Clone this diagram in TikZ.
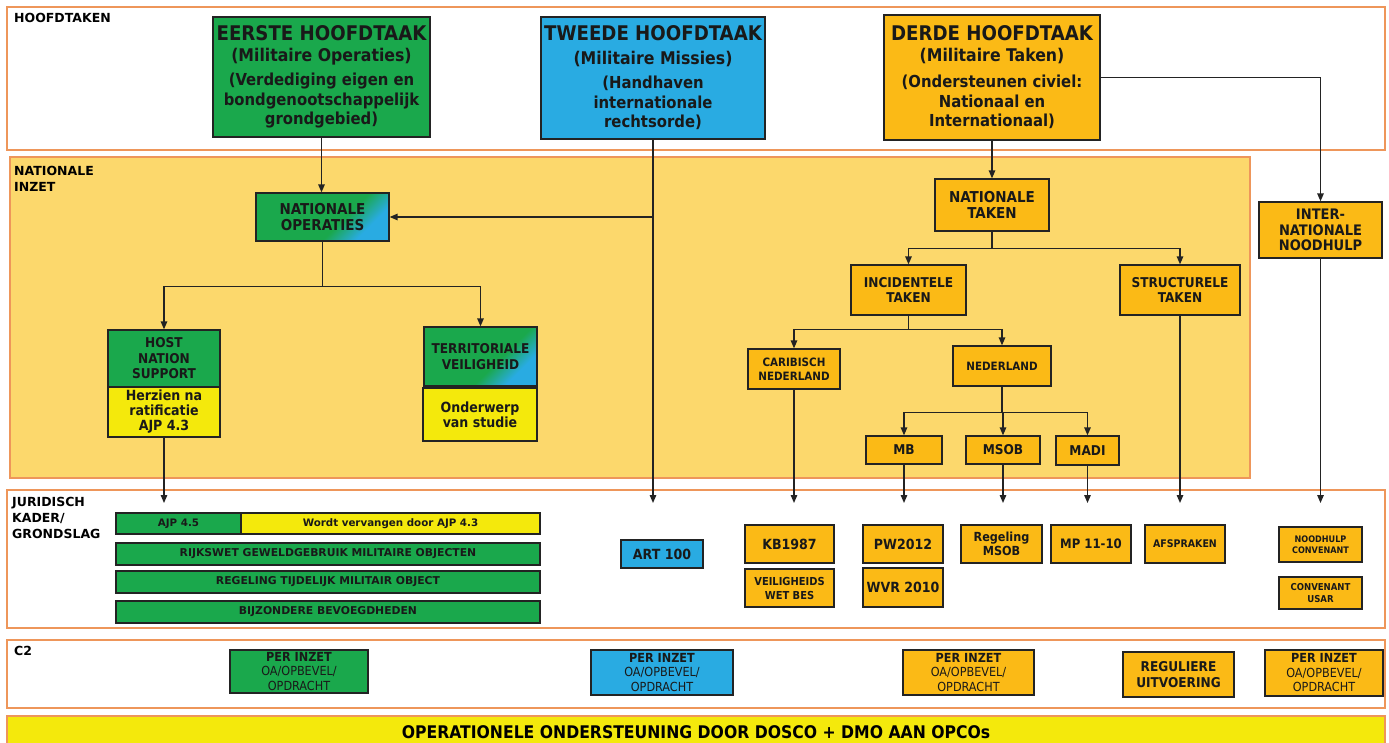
\documentclass[tikz,border=0pt]{standalone}
\usepackage{fontspec}
\setmainfont{DejaVu Sans}
\newfontfamily\cnd{DejaVu Sans Condensed}
\usetikzlibrary{arrows.meta}
\definecolor{cgreen}{RGB}{26,168,76}
\definecolor{cblue}{RGB}{41,171,226}
\definecolor{corange}{RGB}{251,186,22}
\definecolor{cyellow}{RGB}{244,233,12}
\definecolor{cpanel}{RGB}{252,216,108}
\definecolor{cborder}{RGB}{238,150,90}
\definecolor{cline}{RGB}{35,35,35}
\pgfdeclareverticalshading{gbshade}{100bp}{color(0bp)=(cblue); color(28bp)=(cblue); color(41bp)=(cgreen); color(100bp)=(cgreen)}
\newcommand\fsz[2]{\fontsize{#1}{#2}\selectfont}
\newcommand\bx[7]{\node[#6, minimum width={(#4-#2)*1pt}, minimum height={(#5-#3)*1pt}] (#1) at ({(#2+#4)/2},{(#3+#5)/2}) {#7};}
\newcommand\perinzet{PER INZET\\\mdseries OA/OPBEVEL/\\\mdseries OPDRACHT}
\tikzset{
 bx/.style={draw=cline, line width=1.3pt, inner sep=1pt, align=center, text=black!90, font=\cnd\bfseries\fsz{14}{16}},
 gshade/.style={shading=gbshade, shading angle=45},
 panel/.style={draw=cborder, line width=1.4pt},
 arr/.style={draw=cline, line width=1.35pt, -{Triangle[length=8pt,width=6.5pt]}},
 ln/.style={draw=cline, line width=1.35pt},
 lbl/.style={anchor=north west, inner sep=0pt, align=left, font=\bfseries\fsz{12.5}{16}},
 topbox/.style={bx, font=\cnd\bfseries\fsz{16.5}{19.5}},
 bar/.style={bx, fill=cgreen, font=\bfseries\fsz{10.8}{12}},
 c2box/.style={bx, font=\cnd\bfseries\fsz{12.5}{14.5}},
}
\begin{document}
\begin{tikzpicture}[x=1pt,y=-1pt]
\useasboundingbox (0,0) rectangle (1389,742);
\fill[white] (0,0) rectangle (1389,742);
\clip (0,0) rectangle (1389,742);
% panels
\draw[panel] (7,7) rectangle (1385,150);
\draw[panel, fill=cpanel] (10,157) rectangle (1250,478);
\draw[panel] (7,490) rectangle (1385,628);
\draw[panel] (7,640) rectangle (1385,708);
\draw[panel, fill=cyellow] (7,716) rectangle (1385,760);
% labels
\node[lbl] (lhoofd) at (14,13) {HOOFDTAKEN};
\node[lbl] (linzet) at (14,166) {NATIONALE\\INZET};
\node[lbl] (ljur) at (12,497) {JURIDISCH\\KADER/\\GRONDSLAG};
\node[lbl] (lc2) at (14,646) {C2};
\node[font=\cnd\bfseries\fsz{17.4}{19}, inner sep=0pt] (ops) at (696,732) {OPERATIONELE ONDERSTEUNING DOOR DOSCO + DMO AAN OPCOs};
% top boxes
\bx{eerste}{213}{17}{430}{137}{topbox, fill=cgreen}{{\fsz{20.2}{22}EERSTE HOOFDTAAK}\\[1pt]{\fsz{17.5}{20}(Militaire Operaties)}\\[5pt](Verdediging eigen en\\bondgenootschappelijk\\grondgebied)}
\bx{tweede}{541}{17}{765}{139}{topbox, fill=cblue}{{\fsz{20.2}{22}TWEEDE HOOFDTAAK}\\[4pt]{\fsz{17.5}{20}(Militaire Missies)}\\[5pt](Handhaven\\internationale\\rechtsorde)}
\bx{derde}{884}{15}{1100}{140}{topbox, fill=corange}{{\fsz{20.2}{22}DERDE HOOFDTAAK}\\[1pt]{\fsz{17.5}{20}(Militaire Taken)}\\[7pt](Ondersteunen civiel:\\Nationaal en\\Internationaal)}
% nationale inzet
\bx{natop}{256}{193}{389}{241}{bx, gshade, font=\cnd\bfseries\fsz{15}{16}}{NATIONALE\\OPERATIES}
\bx{hns}{108}{330}{220}{387}{bx, fill=cgreen, font=\cnd\bfseries\fsz{13.5}{15.5}}{HOST\\NATION\\SUPPORT}
\bx{hnsy}{108}{387}{220}{437}{bx, fill=cyellow, font=\cnd\bfseries\fsz{14}{15}}{Herzien na\\ratificatie\\AJP 4.3}
\bx{tv}{424}{327}{537}{386}{bx, gshade, font=\cnd\bfseries\fsz{13.5}{15.5}}{TERRITORIALE\\VEILIGHEID}
\bx{tvy}{423}{388}{537}{441}{bx, fill=cyellow, font=\cnd\bfseries\fsz{14}{15}}{Onderwerp\\van studie}
\bx{nattak}{935}{179}{1049}{231}{bx, fill=corange, font=\cnd\bfseries\fsz{15}{16}}{NATIONALE\\TAKEN}
\bx{inc}{851}{265}{966}{315}{bx, fill=corange, font=\cnd\bfseries\fsz{13.5}{15.5}}{INCIDENTELE\\TAKEN}
\bx{struc}{1120}{265}{1240}{315}{bx, fill=corange, font=\cnd\bfseries\fsz{13.5}{15.5}}{STRUCTURELE\\TAKEN}
\bx{carib}{748}{349}{840}{389}{bx, fill=corange, font=\cnd\bfseries\fsz{11.5}{13.5}}{CARIBISCH\\NEDERLAND}
\bx{ned}{953}{346}{1051}{386}{bx, fill=corange, font=\cnd\bfseries\fsz{11.5}{13.5}}{NEDERLAND}
\bx{mb}{866}{436}{942}{464}{bx, fill=corange, font=\cnd\bfseries\fsz{13.5}{15}}{MB}
\bx{msob}{966}{436}{1040}{464}{bx, fill=corange, font=\cnd\bfseries\fsz{13.5}{15}}{MSOB}
\bx{madi}{1056}{436}{1119}{465}{bx, fill=corange, font=\cnd\bfseries\fsz{13.5}{15}}{MADI}
\bx{inh}{1259}{202}{1382}{258}{bx, fill=corange, font=\cnd\bfseries\fsz{14.5}{15.5}}{INTER-\\NATIONALE\\NOODHULP}
% juridisch kader
\bx{ajp}{116}{513}{241}{534}{bar, font=\bfseries\fsz{10.3}{11}}{AJP 4.5}
\bx{wordt}{241}{513}{540}{534}{bar, fill=cyellow, font=\bfseries\fsz{10.3}{11}}{Wordt vervangen door AJP 4.3}
\bx{rijks}{116}{543}{540}{565}{bar}{RIJKSWET GEWELDGEBRUIK MILITAIRE OBJECTEN}
\bx{regt}{116}{571}{540}{593}{bar}{REGELING TIJDELIJK MILITAIR OBJECT}
\bx{bijz}{116}{601}{540}{623}{bar}{BIJZONDERE BEVOEGDHEDEN}
\bx{art}{621}{540}{703}{568}{bx, fill=cblue}{ART 100}
\bx{kb}{745}{525}{834}{563}{bx, fill=corange}{KB1987}
\bx{vwb}{745}{569}{834}{607}{bx, fill=corange, font=\cnd\bfseries\fsz{11}{14}}{VEILIGHEIDS\\WET BES}
\bx{pw}{863}{525}{943}{563}{bx, fill=corange}{PW2012}
\bx{wvr}{863}{568}{943}{607}{bx, fill=corange}{WVR 2010}
\bx{rmsob}{961}{525}{1042}{563}{bx, fill=corange, font=\cnd\bfseries\fsz{12.5}{14}}{Regeling\\MSOB}
\bx{mp}{1051}{525}{1131}{563}{bx, fill=corange, font=\cnd\bfseries\fsz{13}{15}}{MP 11-10}
\bx{afs}{1145}{525}{1225}{563}{bx, fill=corange, font=\cnd\bfseries\fsz{10.5}{13}}{AFSPRAKEN}
\bx{nhc}{1279}{527}{1362}{562}{bx, fill=corange, font=\cnd\bfseries\fsz{9}{11}}{NOODHULP\\CONVENANT}
\bx{cusar}{1279}{577}{1362}{609}{bx, fill=corange, font=\cnd\bfseries\fsz{9.5}{11.5}}{CONVENANT\\USAR}
% C2
\bx{c2a}{230}{650}{368}{693}{c2box, fill=cgreen}{\perinzet}
\bx{c2b}{591}{650}{733}{695}{c2box, fill=cblue}{\perinzet}
\bx{c2c}{903}{650}{1034}{695}{c2box, fill=corange}{\perinzet}
\bx{c2d}{1123}{652}{1234}{697}{c2box, fill=corange, font=\cnd\bfseries\fsz{13.5}{15.5}}{REGULIERE\\UITVOERING}
\bx{c2e}{1265}{650}{1383}{696}{c2box, fill=corange}{\perinzet}
% connectors
\coordinate (jtop) at (0,503);
\draw[arr] (eerste.south) -- (eerste.south |- natop.north);
\draw[arr] (tweede.south) -- (tweede.south |- jtop);
\draw[arr] (tweede.south |- natop.east) -- (natop.east);
\draw[arr] (derde.south) -- (derde.south |- nattak.north);
\draw[arr] (derde.east) -| (inh.north);
\path (natop.south) ++(0,45) coordinate (b1);
\draw[ln] (natop.south) -- (b1);
\draw[arr] (b1) -| (hns.north);
\draw[arr] (b1) -| (tv.north);
\path (nattak.south) ++(0,17) coordinate (b2);
\draw[ln] (nattak.south) -- (b2);
\draw[arr] (b2) -| (inc.north);
\draw[arr] (b2) -| (struc.north);
\path (inc.south) ++(0,14) coordinate (b3);
\draw[ln] (inc.south) -- (b3);
\draw[arr] (b3) -| (carib.north);
\draw[arr] (b3) -| (ned.north);
\path (ned.south) ++(0,26) coordinate (b4);
\draw[ln] (ned.south) -- (b4);
\draw[arr] (b4) -| (mb.north);
\draw[arr] (b4) -| (msob.north);
\draw[arr] (b4) -| (madi.north);
\draw[arr] (hnsy.south) -- (hnsy.south |- jtop);
\draw[arr] (carib.south) -- (carib.south |- jtop);
\draw[arr] (mb.south) -- (mb.south |- jtop);
\draw[arr] (msob.south) -- (msob.south |- jtop);
\draw[arr] (madi.south) -- (madi.south |- jtop);
\draw[arr] (struc.south) -- (struc.south |- jtop);
\draw[arr] (inh.south) -- (inh.south |- jtop);
\end{tikzpicture}
\end{document}
